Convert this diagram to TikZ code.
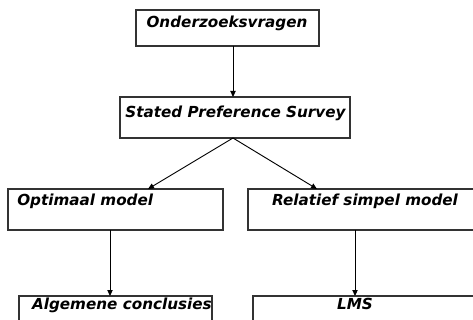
\documentclass[tikz,border=0pt]{standalone}
\usepackage{fontspec}
\setmainfont{DejaVu Sans}
\usetikzlibrary{fit,arrows.meta}
\begin{document}
\begin{tikzpicture}[x=0.75pt,y=-0.75pt,
  box/.style={draw=black!80,line width=0.9pt,inner sep=0pt,outer sep=0pt},
  txt/.style={font=\fontsize{11.4}{13}\selectfont\bfseries\itshape,inner sep=0pt},
  arr/.style={draw=black,line width=0.7pt,-{Triangle[length=4.5pt,width=4pt]}}]
\useasboundingbox (0,0) rectangle (473,320);
\clip (0,0) rectangle (473,320);
\node[box,fit={(136,10) (319,46)}] (b1) {};
\node[box,fit={(120,97) (350,138)}] (b2) {};
\node[box,fit={(8,189) (223,230)}] (b3) {};
\node[box,fit={(248,189) (480,230)}] (b4) {};
\node[box,fit={(19,296) (212,340)}] (b5) {};
\node[box,fit={(253,296) (480,340)}] (b6) {};
\node[txt,anchor=base] (t1) at (227,28) {Onderzoeksvragen};
\node[txt,anchor=base] (t2) at (235.5,118) {Stated Preference Survey};
\node[txt,anchor=base west] (t3) at (17,205) {Optimaal model};
\node[txt,anchor=base] (t4) at (365,205) {Relatief simpel model};
\node[txt,anchor=base east] (t5) at (212,309) {Algemene conclusies};
\node[txt,anchor=base] (t6) at (355,309) {LMS};
\coordinate (a1) at (233,0);
\coordinate (d1) at (148,0);
\coordinate (d2) at (317,0);
\coordinate (a2) at (110,0);
\coordinate (a3) at (355,0);
\draw[arr] (b1.south -| a1) -- (b2.north -| a1);
\draw[arr] (b2.south -| a1) -- (b3.north -| d1);
\draw[arr] (b2.south -| a1) -- (b4.north -| d2);
\draw[arr] (b3.south -| a2) -- (b5.north -| a2);
\draw[arr] (b4.south -| a3) -- (b6.north -| a3);
\end{tikzpicture}
\end{document}
